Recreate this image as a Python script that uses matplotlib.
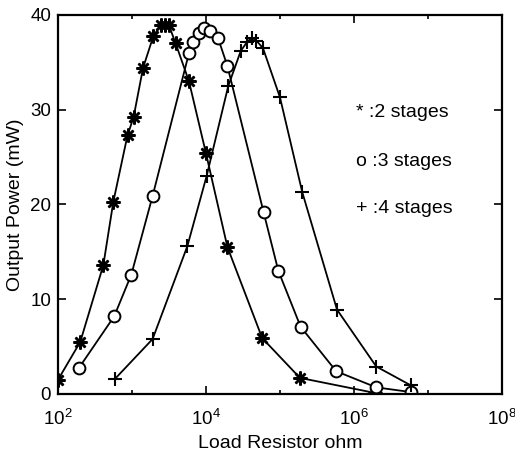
import numpy as np
import matplotlib.pyplot as plt
from matplotlib.ticker import FixedLocator, NullFormatter

plt.rcParams['font.family'] = ['Liberation Sans', 'DejaVu Sans']
plt.rcParams['mathtext.fontset'] = 'custom'
plt.rcParams['mathtext.rm'] = 'Liberation Sans'

# load resistance (ohm) and output power (mW) per stage count
r2 = [100, 200, 410, 560, 870, 1050, 1410, 1950, 2450, 2820, 3160, 3890,
      5890, 10000, 19500, 57500, 186000, 1950000]
p2 = [1.5, 5.5, 13.6, 20.3, 27.3, 29.2, 34.4, 37.8, 38.9, 38.9, 38.9, 37.0,
      33.0, 25.4, 15.5, 5.9, 1.7, 0.1]

r3 = [190, 575, 980, 1900, 5900, 6600, 8100, 9500, 11500, 14500, 19500,
      60000, 95000, 190000, 575000, 2000000, 5900000]
p3 = [2.7, 8.2, 12.6, 20.9, 36.0, 37.1, 38.1, 38.6, 38.3, 37.6, 34.6,
      19.2, 13.0, 7.1, 2.4, 0.7, 0.2]

r4 = [590, 1900, 5600, 10200, 20000, 29500, 36300, 41700, 47900, 58900,
      100000, 200000, 590000, 2000000, 5900000]
p4 = [1.6, 5.8, 15.6, 23.0, 32.5, 36.2, 37.2, 37.6, 37.3, 36.5,
      31.3, 21.3, 8.9, 2.9, 0.9]

labels = ['* :2 stages', 'o :3 stages', '+ :4 stages']

fig = plt.figure(figsize=(5.15, 4.51), dpi=100)
ax = fig.add_axes([0.1126, 0.1264, 0.8621, 0.8404])

ax.plot(r2, p2, color='k', lw=1.3, marker=(8, 2, 0), ms=10, mew=1.8)
ax.plot(r3, p3, color='k', lw=1.3, marker='o', ms=8.5, mfc='white', mew=1.4)
ax.plot(r4, p4, color='k', lw=1.3, marker='+', ms=10, mew=1.5)

ax.set_xscale('log')
ax.set_xlim(1e2, 1e8)
ax.set_ylim(0, 40)
ax.xaxis.set_major_locator(FixedLocator([1e2, 1e4, 1e6, 1e8]))
ax.xaxis.set_minor_locator(FixedLocator([1e3, 1e5, 1e7]))
ax.xaxis.set_minor_formatter(NullFormatter())
ax.set_yticks([0, 10, 20, 30, 40])

ax.tick_params(which='both', direction='in', top=True, right=True,
               labelsize=13.5, width=1.2)
ax.tick_params(which='major', length=6)
ax.tick_params(which='minor', length=3)
ax.tick_params(axis='x', pad=11)
ax.tick_params(axis='y', pad=5)
for s in ax.spines.values():
    s.set_linewidth(1.6)

ax.set_xlabel('Load Resistor ohm', fontsize=14, labelpad=4)
ax.set_ylabel('Output Power (mW)', fontsize=14, labelpad=4)

for y, t in zip([29.7, 24.5, 19.6], labels):
    ax.text(1.05e6, y, t, fontsize=14, va='center', ha='left')

fig.savefig('out.png', dpi=100)
